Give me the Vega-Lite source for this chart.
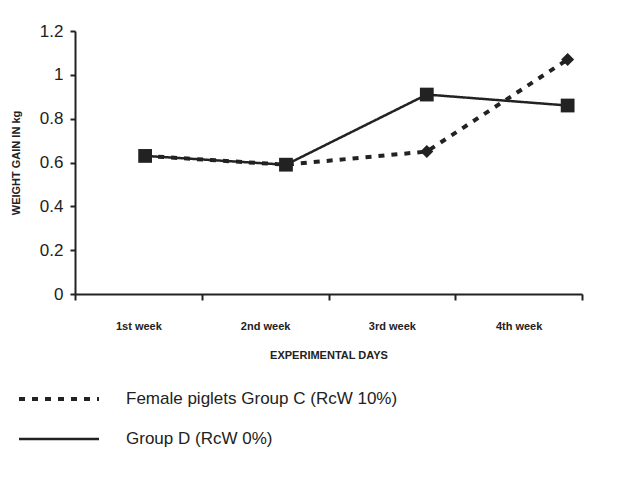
{
  "$schema": "https://vega.github.io/schema/vega-lite/v6.json",
  "width": 507,
  "height": 263,
  "padding": {"left": 10, "top": 22, "right": 5, "bottom": 5},
  "background": "white",
  "config": {
    "view": {"stroke": null},
    "font": "Liberation Sans",
    "axis": {"grid": false, "domainColor": "#222", "tickColor": "#222", "domainWidth": 2, "tickWidth": 2, "labelColor": "#222", "titleColor": "#222"}
  },
  "data": {
    "values": [
      {"week": "1st week", "group": "Female piglets Group C (RcW 10%)", "gain": 0.63},
      {"week": "2nd week", "group": "Female piglets Group C (RcW 10%)", "gain": 0.59},
      {"week": "3rd week", "group": "Female piglets Group C (RcW 10%)", "gain": 0.65},
      {"week": "4th week", "group": "Female piglets Group C (RcW 10%)", "gain": 1.07},
      {"week": "1st week", "group": "Group D (RcW 0%)", "gain": 0.63},
      {"week": "2nd week", "group": "Group D (RcW 0%)", "gain": 0.59},
      {"week": "3rd week", "group": "Group D (RcW 0%)", "gain": 0.91},
      {"week": "4th week", "group": "Group D (RcW 0%)", "gain": 0.86}
    ]
  },
  "layer": [
    {
      "mark": {"type": "point", "opacity": 0},
      "encoding": {
        "x": {"field": "week", "type": "nominal", "scale": {"type": "band"},
          "axis": {"title": "EXPERIMENTAL DAYS", "labelAngle": 0, "tickBand": "extent", "tickSize": 6, "labelFontSize": 11, "labelFontWeight": "bold", "labelPadding": 20, "titleFontSize": 11, "titleFontWeight": "bold", "titlePadding": 18}},
        "y": {"field": "gain", "type": "quantitative", "scale": {"domain": [0, 1.2]},
          "axis": {"title": "WEIGHT GAIN IN kg", "values": [0, 0.2, 0.4, 0.6, 0.8, 1, 1.2], "format": "~g", "tickSize": 5, "labelFontSize": 17, "labelPadding": 7, "titleFontSize": 11, "titleFontWeight": "bold", "titlePadding": 18}}
      }
    },
    {
      "mark": {"type": "line", "color": "#222"},
      "encoding": {
        "x": {"field": "week", "type": "ordinal", "scale": {"type": "point", "padding": 0.3, "align": 0.83}, "axis": null},
        "y": {"field": "gain", "type": "quantitative", "scale": {"domain": [0, 1.2]}},
        "strokeDash": {"field": "group", "type": "nominal",
          "scale": {"domain": ["Female piglets Group C (RcW 10%)", "Group D (RcW 0%)"], "range": [[6, 7], [1, 0]]},
          "legend": {"title": null, "orient": "none", "legendX": -58, "legendY": 348, "direction": "vertical", "symbolType": "stroke", "symbolSize": 6400, "symbolStrokeWidth": 3.5, "symbolStrokeColor": "#222", "labelFontSize": 17, "labelColor": "#222", "labelLimit": 0, "rowPadding": 0, "clipHeight": 40, "labelOffset": 25}},
        "strokeWidth": {"field": "group", "type": "nominal", "scale": {"domain": ["Female piglets Group C (RcW 10%)", "Group D (RcW 0%)"], "range": [4, 2.5]}, "legend": null}
      }
    },
    {
      "transform": [{"filter": "datum.group === 'Female piglets Group C (RcW 10%)'"}],
      "mark": {"type": "point", "filled": true, "color": "#222", "opacity": 1, "shape": "diamond", "size": 170},
      "encoding": {
        "x": {"field": "week", "type": "ordinal", "scale": {"type": "point", "padding": 0.3, "align": 0.83}, "axis": null},
        "y": {"field": "gain", "type": "quantitative", "scale": {"domain": [0, 1.2]}}
      }
    },
    {
      "transform": [{"filter": "datum.group === 'Group D (RcW 0%)'"}],
      "mark": {"type": "point", "filled": true, "color": "#222", "opacity": 1, "shape": "square", "size": 190},
      "encoding": {
        "x": {"field": "week", "type": "ordinal", "scale": {"type": "point", "padding": 0.3, "align": 0.83}, "axis": null},
        "y": {"field": "gain", "type": "quantitative", "scale": {"domain": [0, 1.2]}}
      }
    }
  ],
  "resolve": {"scale": {"x": "independent"}}
}
